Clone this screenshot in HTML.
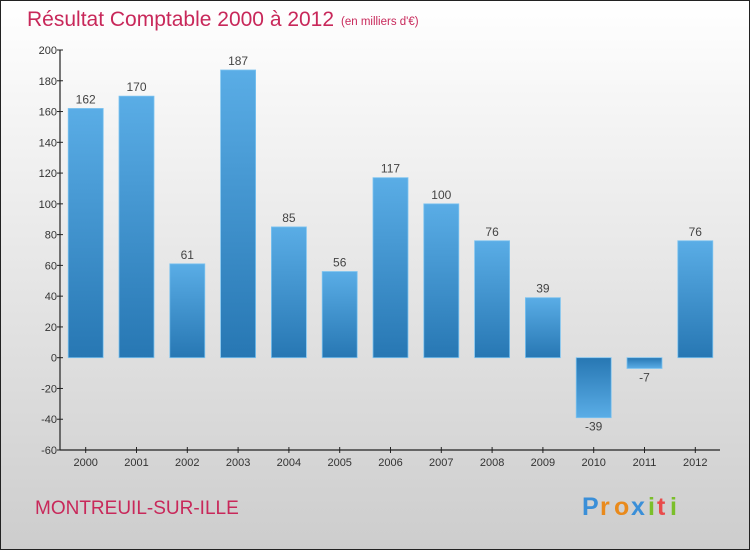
<!DOCTYPE html>
<html><head><meta charset="utf-8"><style>
body{margin:0}
#c{width:750px;height:550px;position:relative;font-family:"Liberation Sans","DejaVu Sans",sans-serif}
</style></head><body>
<div id="c">
<svg id="s" width="750" height="550" xmlns="http://www.w3.org/2000/svg" font-family="Liberation Sans, DejaVu Sans, sans-serif">
<defs>
<linearGradient id="bg" x1="0" y1="0" x2="0" y2="1"><stop offset="0" stop-color="#ffffff"/><stop offset="1" stop-color="#cdcdcd"/></linearGradient>
<linearGradient id="bar" x1="0" y1="0" x2="0" y2="1"><stop offset="0" stop-color="#5aade6"/><stop offset="1" stop-color="#2777b3"/></linearGradient>
<linearGradient id="barn" x1="0" y1="0" x2="0" y2="1"><stop offset="0" stop-color="#2777b3"/><stop offset="1" stop-color="#5aade6"/></linearGradient>
</defs>
<rect x="0.5" y="0.5" width="749" height="549" fill="url(#bg)" stroke="#222"/>
<text x="27" y="26" font-size="21" fill="#c8285a">Résultat Comptable 2000 à 2012</text>
<text x="341" y="25" font-size="11.5" fill="#c8285a">(en milliers d'€)</text>
<text x="35" y="514" font-size="19" fill="#c8285a">MONTREUIL-SUR-ILLE</text>
<g font-size="25" font-weight="bold">
<text x="582" y="515" fill="#3a8fd8">P</text><text x="600" y="515" fill="#e98a1c">r</text><text x="614" y="515" fill="#e98a1c">o</text><text x="631" y="515" fill="#3a8fd8">x</text><text x="648" y="515" fill="#7bbf2a">i</text><text x="657" y="515" fill="#e94b4b">t</text><text x="670" y="515" fill="#7bbf2a">i</text>
</g>
<g id="plot"></g>
</svg>
</div>
<script>
const categories=["2000","2001","2002","2003","2004","2005","2006","2007","2008","2009","2010","2011","2012"];
const values=[162,170,61,187,85,56,117,100,76,39,-39,-7,76];
const yTicks=[200,180,160,140,120,100,80,60,40,20,0,-20,-40,-60];
{
const yMin=-60,yMax=200,plotTop=50,plotBottom=450,axisX=60;
const x0=85.7,step=50.8,bw=35;
function y(v){return plotTop+(yMax-v)*(plotBottom-plotTop)/(yMax-yMin);}
function xc(i){return x0+i*step;}
const NS="http://www.w3.org/2000/svg";
const g=document.getElementById('plot');
function mk(t,a){const e=document.createElementNS(NS,t);for(const k in a)e.setAttribute(k,a[k]);g.appendChild(e);return e;}
values.forEach((v,i)=>{
  const y0=y(0),yv=y(v);
  const r=mk('rect',{x:xc(i)-bw/2,y:Math.min(y0,yv),width:bw,height:Math.abs(y0-yv),fill:v>=0?'url(#bar)':'url(#barn)',stroke:'#7cc3f0','stroke-width':0.8});
  
  
  const t=mk('text',{x:xc(i),y:v>=0?yv-5:yv+13,'text-anchor':'middle','font-size':12,fill:'#444'});
  t.textContent=v;
  
  
  const tk=mk('line',{x1:xc(i),x2:xc(i),y1:plotBottom-3,y2:plotBottom+3,stroke:'#222'});
  
  
  const xl=mk('text',{x:xc(i),y:plotBottom+16,'text-anchor':'middle','font-size':11,fill:'#333'});
  xl.textContent=categories[i];
  
  
});
yTicks.forEach(v=>{
  const l=mk('line',{x1:axisX-3,x2:axisX+3,y1:y(v),y2:y(v),stroke:'#222'});
  
  
  const t=mk('text',{x:axisX-3,y:y(v)+4,'text-anchor':'end','font-size':11,fill:'#333'});
  t.textContent=v;
  
  
});
const ya=mk('line',{x1:axisX,x2:axisX,y1:plotTop,y2:plotBottom,stroke:'#222','stroke-width':1.2});


const xa=mk('line',{x1:axisX,x2:720,y1:plotBottom,y2:plotBottom,stroke:'#222','stroke-width':1.2});


}
</script>
</body></html>
